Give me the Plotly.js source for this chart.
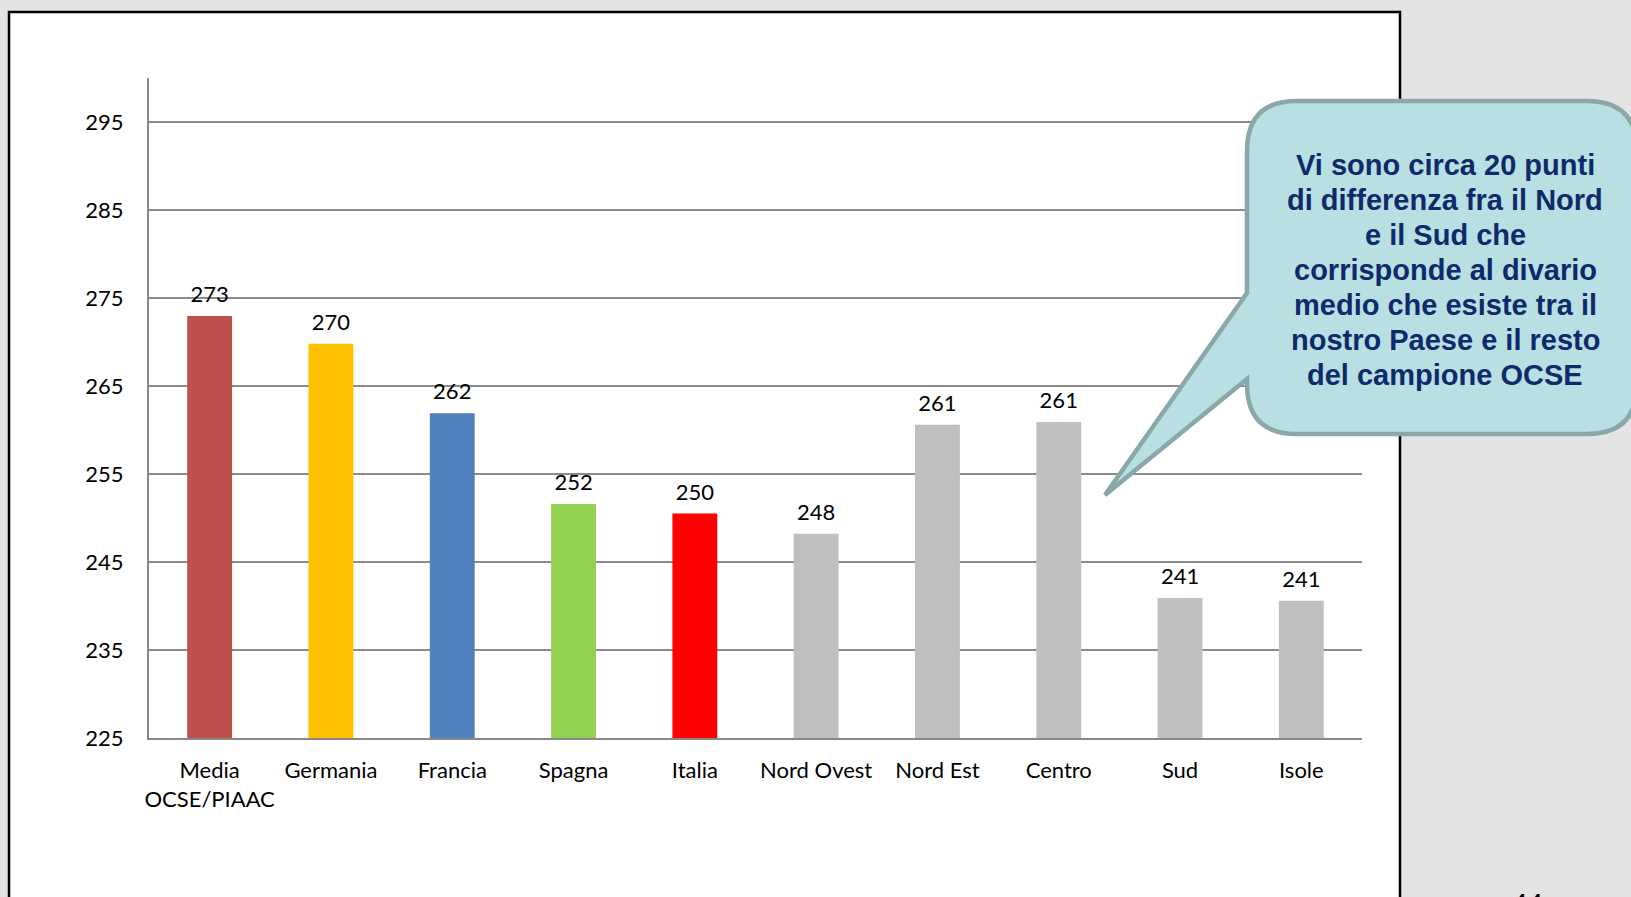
<!DOCTYPE html>
<html>
<head>
<meta charset="utf-8">
<script src="https://cdn.plot.ly/plotly-3.0.1.min.js"></script>
<style>
  html, body { margin: 0; padding: 0; background: #e4e4e4; }
  #chart { width: 1631px; height: 897px; }
</style>
</head>
<body>
<div id="chart"></div>
<script>
// ---- data ----
const categories = ["Media<br>OCSE/PIAAC", "Germania", "Francia", "Spagna", "Italia",
                    "Nord Ovest", "Nord Est", "Centro", "Sud", "Isole"];
const values = [272.95, 269.8, 261.9, 251.6, 250.5, 248.2, 260.6, 260.9, 240.9, 240.6];
const valueLabels = ["273", "270", "262", "252", "250", "248", "261", "261", "241", "241"];
const barColors = ["#c0504d", "#ffc000", "#4f81bd", "#92d050", "#ff0000",
                   "#bfbfbf", "#bfbfbf", "#bfbfbf", "#bfbfbf", "#bfbfbf"];
const yTickValues = [225, 235, 245, 255, 265, 275, 285, 295];
const calloutLines = ["Vi sono circa 20 punti", "di differenza fra il Nord", "e il Sud che",
                      "corrisponde al divario", "medio che esiste tra il",
                      "nostro Paese e il resto", "del campione OCSE"];

// ---- geometry helpers (pixel -> paper) ----
const W = 1631, H = 897;
const M = {l: 149, r: 269, t: 78, b: 159};
const PW = W - M.l - M.r, PH = H - M.t - M.b;
const px = x => ((x - M.l) / PW).toFixed(5);
const py = y => ((H - M.b - y) / PH).toFixed(5);

// callout path
const bx0 = 1247, bx1 = 1637, by0 = 101, by1 = 434, r = 50;
const callPath = [
  `M${px(bx0 + r)},${py(by0)}`,
  `L${px(bx1 - r)},${py(by0)}`,
  `Q${px(bx1)},${py(by0)} ${px(bx1)},${py(by0 + r)}`,
  `L${px(bx1)},${py(by1 - r)}`,
  `Q${px(bx1)},${py(by1)} ${px(bx1 - r)},${py(by1)}`,
  `L${px(bx0 + r)},${py(by1)}`,
  `Q${px(bx0)},${py(by1)} ${px(bx0)},${py(by1 - r)}`,
  `L${px(bx0)},${py(379)}`,
  `L${px(1105)},${py(495)}`,
  `L${px(bx0)},${py(293)}`,
  `L${px(bx0)},${py(by0 + r)}`,
  `Q${px(bx0)},${py(by0)} ${px(bx0 + r)},${py(by0)}`,
  'Z'
].join(' ');

const bars = {
  type: 'bar',
  x: categories,
  y: values,
  marker: {color: barColors},
  width: 0.37,
  cliponaxis: true,
  hoverinfo: 'skip'
};

const labels = {
  type: 'scatter',
  mode: 'markers+text',
  x: categories,
  y: values,
  text: valueLabels,
  textposition: 'top center',
  marker: {size: 12, opacity: 0},
  textfont: {family: 'Lato, "Open Sans", sans-serif', size: 22, color: '#000'},
  cliponaxis: false,
  hoverinfo: 'skip'
};

const calloutAnnotations = calloutLines.map((line, i) => ({
  xref: 'paper', yref: 'paper', x: px(1445), y: py(165 + 35 * i),
  xanchor: 'center', yanchor: 'middle', showarrow: false,
  text: line,
  font: {family: '"Liberation Sans", Arial, sans-serif', size: 29, weight: 'bold', color: '#0f2a6b'}
}));

const layout = {
  width: W, height: H,
  margin: M,
  paper_bgcolor: '#e4e4e4',
  plot_bgcolor: 'rgba(0,0,0,0)',
  showlegend: false,
  font: {family: 'Lato, "Open Sans", sans-serif', size: 22, color: '#000'},
  xaxis: {
    type: 'category',
    range: [-0.5, categories.length - 0.5],
    showline: true, linecolor: '#888888', linewidth: 2,
    showgrid: false, ticks: '', ticklabelstandoff: 12,
    tickfont: {family: 'Lato, "Open Sans", sans-serif', size: 22, color: '#000'},
    fixedrange: true
  },
  yaxis: {
    range: [225, 300],
    tickvals: yTickValues,
    showline: true, linecolor: '#888888', linewidth: 2,
    showgrid: true, gridcolor: '#8c8c8c', gridwidth: 2,
    zeroline: false, ticks: '', ticklabelstandoff: 19,
    tickfont: {family: 'Lato, "Open Sans", sans-serif', size: 22, color: '#000'},
    fixedrange: true
  },
  shapes: [
    {type: 'rect', xref: 'paper', yref: 'paper', layer: 'below',
     x0: px(9), x1: px(1400), y0: py(12), y1: py(910),
     fillcolor: '#ffffff', line: {color: '#000000', width: 2.5}},
    {type: 'line', xref: 'paper', yref: 'paper', layer: 'below',
     x0: px(1402), x1: px(1631), y0: py(815), y1: py(815),
     line: {color: '#ece8df', width: 1}},
    {type: 'path', xref: 'paper', yref: 'paper', layer: 'above',
     path: callPath, fillcolor: '#b8dfe2', line: {color: '#8aa7a9', width: 4.5}}
  ],
  annotations: calloutAnnotations.concat([
    {xref: 'paper', yref: 'paper', x: px(1527), y: py(886),
     xanchor: 'center', yanchor: 'top', showarrow: false,
     text: '44',
     font: {family: '"Liberation Sans", Arial, sans-serif', size: 28, color: '#000'}}
  ])
};

Plotly.newPlot('chart', [bars, labels], layout, {staticPlot: true, displayModeBar: false});
</script>
</body>
</html>
